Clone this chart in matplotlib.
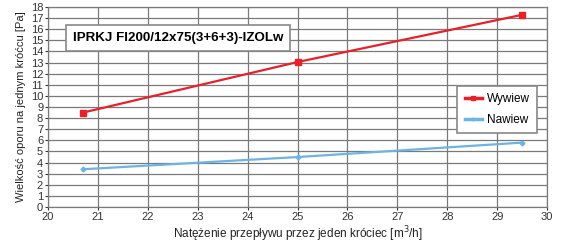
import numpy as np
import matplotlib.pyplot as plt
from matplotlib.lines import Line2D

plt.rcParams['font.family'] = ['Liberation Sans', 'DejaVu Sans']
plt.rcParams['font.size'] = 8

flow = [20.7, 25, 29.5]
wywiew = [8.5, 13.05, 17.3]
nawiew = [3.4, 4.5, 5.8]

x_ticks = np.arange(20, 31, 1)
y_ticks = np.arange(0, 19, 1)

red = '#e8202a'
blue = '#6cb4e4'

fig = plt.figure(figsize=(5.69, 2.43), dpi=100)
ax = fig.add_axes([0.0844, 0.148, 0.877, 0.823])

ax.plot(flow, wywiew, color=red, lw=1.6, marker='s', ms=4.5, zorder=3)
ax.plot(flow, nawiew, color=blue, lw=1.6, marker='D', ms=2.5, zorder=3)

ax.set_xlim(20, 30)
ax.set_ylim(0, 18)
ax.set_xticks(x_ticks)
ax.set_yticks(y_ticks)
ax.grid(True, color='#7a7a7a', lw=0.9)
for s in ax.spines.values():
    s.set_color('#7a7a7a')
    s.set_linewidth(0.9)
ax.tick_params(colors='#333333', length=2, pad=1.5, labelsize=8)

ax.set_xlabel('Natężenie przepływu przez jeden króciec [m$^3$/h]', fontsize=8.5, labelpad=2, color='#222222')
ax.set_ylabel('Wielkość oporu na jednym króćcu [Pa]', fontsize=8, labelpad=3, color='#222222')

ax.text(0.05, 0.845, 'IPRKJ FI200/12x75(3+6+3)-IZOLw', transform=ax.transAxes,
        fontsize=9.6, fontweight='bold', va='center', ha='left',
        bbox=dict(boxstyle='square,pad=0.5', fc='white', ec='#888888', lw=1.2), zorder=5)

handles = [Line2D([], [], color=red, lw=2.5, marker='s', ms=3.5),
           Line2D([], [], color=blue, lw=2.5, marker='D', ms=1.5)]
leg = ax.legend(handles, ['Wywiew', 'Nawiew'], loc='upper right', bbox_to_anchor=(0.98, 0.605),
                borderaxespad=0, fancybox=False, framealpha=1, edgecolor='#888888', fontsize=8.5,
                borderpad=0.6, handlelength=1.5, handletextpad=0.4, labelspacing=0.75)
leg.get_frame().set_linewidth(1.2)

fig.savefig('out.png', dpi=100)
